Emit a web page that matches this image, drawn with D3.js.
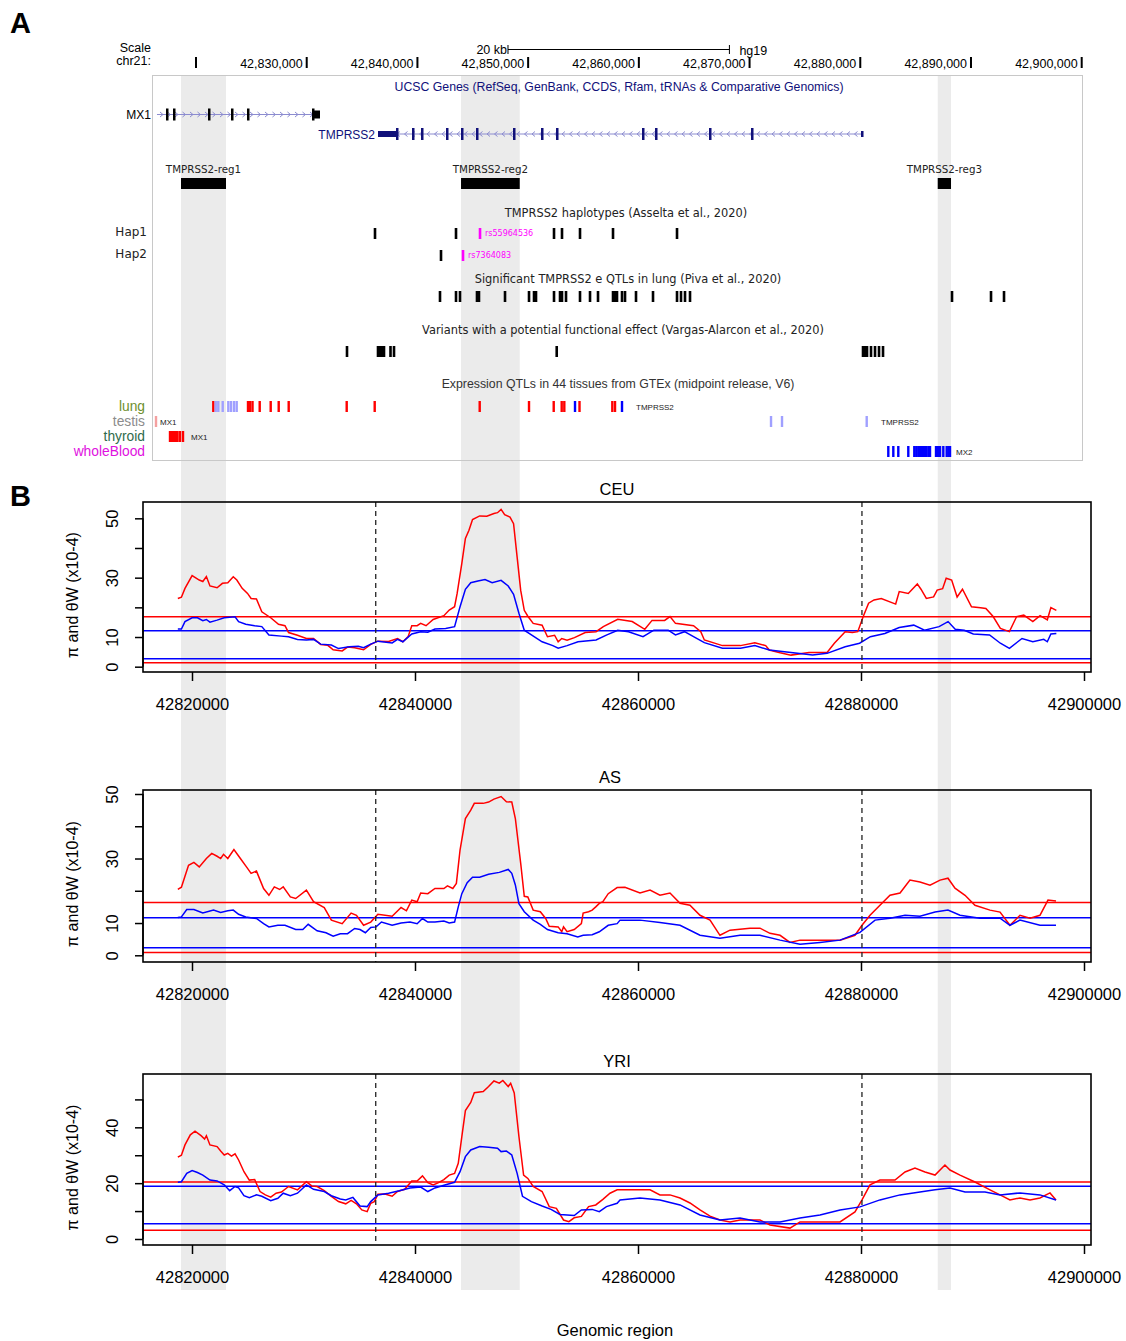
<!DOCTYPE html>
<html>
<head>
<meta charset="utf-8">
<script src="https://cdn.jsdelivr.net/npm/d3@7"></script>
<style>
  body { margin: 0; background: #fff; }
</style>
</head>
<body>
<svg id="fig" width="1126" height="1341"></svg>
<script>
// ---- data (hg19, chr21) ----
const kbBase = 42800000;   // curve positions are kb offsets from here

const scaleTicks = [42820000, 42830000, 42840000, 42850000, 42860000, 42870000, 42880000, 42890000, 42900000];
const scaleBar = [42848180, 42868180];   // 20 kb
const plotTicks = [42820000, 42840000, 42860000, 42880000, 42900000];

// shaded regulatory regions
const regRegions = [
  {name: "TMPRSS2-reg1", start: 42818645, end: 42822710},
  {name: "TMPRSS2-reg2", start: 42843938, end: 42849241},
  {name: "TMPRSS2-reg3", start: 42886995, end: 42888196}
];

// genes: [start, end, kind]
const mx1Span = [42816477, 42831200];
const mx1Exons = [[42817290, 0, "cds"], [42817923, 0, "cds"], [42821084, 0, "cds"], [42823161, 0, "cds"],
                  [42824607, 0, "cds"], [42830478, 0, "cds"], [42830568, 42831200, "utr"]];
const tmprss2Span = [42836439, 42880157];
const tmprss2Exons = [[42836439, 42838065, "utr"], [42838065, 0, "cds"], [42839510, 0, "cds"], [42840323, 0, "cds"],
                      [42842581, 0, "cds"], [42843936, 0, "cds"], [42845291, 0, "cds"], [42848633, 0, "cds"],
                      [42851163, 0, "cds"], [42852518, 0, "cds"], [42860285, 0, "cds"], [42861460, 0, "cds"],
                      [42866337, 0, "cds"], [42870131, 0, "cds"], [42880157, 0, "end"]];

// haplotypes (Asselta et al.)
const hap1Snps = [42836168, 42843485, 42852337, 42853059, 42854685, 42857666, 42863447];
const hap1Tag = {pos: 42845653, id: "rs55964536"};
const hap2Snps = [42842130];
const hap2Tag = {pos: 42844117, id: "rs7364083"};

// lung eQTLs (Piva et al.)
const pivaEqtls = [42842039, 42843485, 42843846, 42845380, 42845560, 42847911, 42850079, 42850531, 42850711,
  42852337, 42852879, 42853059, 42853421, 42854685, 42855589, 42856311, 42857666, 42857846, 42858027,
  42858479, 42858750, 42859743, 42861279, 42863447, 42863808, 42864169, 42864621, 42888286, 42891809, 42892983];

// functional variants (Vargas-Alarcon et al.)
const vargasVariants = [42833639, 42836439, 42836620, 42836800, 42836981, 42837568, 42837885, 42852581,
  42880247, 42880428, 42880609, 42880970, 42881332, 42881693, 42882054];

// GTEx eQTLs per tissue: [pos, colour class]
const gtexRows = ["lung", "testis", "thyroid", "wholeBlood"];
const gtexRowColors = ["#6e8f2e", "#8c8c8c", "#2f6b4c", "#e010e0"];
const lungEqtls = [[42821563, "r"], [42821779, "lb"], [42822014, "lb"], [42822412, "lb"], [42822918, "lb"],
  [42823161, "lb"], [42823432, "lb"], [42823676, "lb"], [42824697, "r"], [42824878, "r"], [42825104, "r"],
  [42825754, "r"], [42826747, "r"], [42827470, "r"], [42828373, "r"], [42833612, "r"], [42836141, "r"],
  [42845625, "r"], [42850079, "r"], [42852310, "r"], [42853032, "r"], [42853267, "r"], [42854234, "b"],
  [42854640, "r"], [42857603, "r"], [42857847, "r"], [42858479, "b"]];
const testisEqtls = [[42816387, "lr"], [42871938, "lb"], [42872931, "lb"], [42880581, "lb"]];
const thyroidEqtls = [[42817652, "r"], [42817832, "r"], [42818013, "r"], [42818193, "r"], [42818330, "r"],
  [42818555, "r"], [42818826, "r"]];
const bloodEqtls = [[42882532, "b"], [42882984, "b"], [42883435, "b"], [42884338, "b"], [42884880, "b"],
  [42885061, "b"], [42885242, "b"], [42885396, "b"], [42885577, "b"], [42885757, "b"], [42885938, "b"],
  [42886145, "b"], [42886299, "b"], [42886841, "b"], [42887022, "b"], [42887202, "b"], [42887500, "b"],
  [42887807, "b"], [42887970, "b"], [42888106, "b"]];
const gtexGeneLabels = [[0, "TMPRSS2", 42859743], [1, "MX1", 42816748], [1, "TMPRSS2", 42881873],
  [2, "MX1", 42819548], [3, "MX2", 42888648]];

// TMPRSS2 gene boundaries (dashed lines)
const geneBounds = [42836478, 42880085];

// pi (red) and theta W (blue), x10-4, [kb offset, value]
const ceuPi = [[18.73,23.0],[19.05,23.4],[19.37,26.4],[20.01,30.7],[20.65,29.2],[20.97,28.7],[21.29,30.4],[21.61,27.2],
  [22.25,26.6],[22.73,28.1],[23.21,28.3],[23.70,30.3],[24.02,29.2],[24.50,26.4],[24.98,24.7],[25.30,23.0],[25.78,22.8],
  [26.26,18.5],[27.06,16.5],[27.76,14.3],[28.34,13.8],[28.66,11.5],[29.46,10.6],[30.26,9.5],[30.90,9.5],[31.54,7.5],
  [32.18,7.2],[32.66,5.7],[33.47,5.3],[33.95,6.6],[34.59,6.4],[35.39,5.7],[36.03,7.5],[36.67,8.6],[37.63,8.5],[38.43,9.5],
  [38.91,8.4],[39.39,10.2],[39.71,13.8],[40.19,13.8],[40.51,14.6],[40.99,13.8],[41.63,15.9],[42.59,17.2],[43.07,19.1],
  [43.55,20.2],[43.78,24.7],[44.20,34.8],[44.52,43.2],[44.84,46.0],[45.16,49.6],[45.80,50.8],[46.44,50.7],[47.08,51.6],
  [47.40,51.9],[47.72,53.0],[48.04,51.2],[48.52,50.4],[48.84,48.2],[49.16,36.9],[49.48,25.7],[49.80,19.0],[50.12,17.0],
  [50.60,14.6],[51.40,14.0],[51.88,10.1],[52.52,10.6],[52.84,8.4],[53.16,9.5],[53.64,8.9],[54.30,9.8],[55.27,11.5],
  [56.24,11.8],[56.89,13.5],[58.18,16.0],[59.48,15.2],[60.61,12.6],[61.26,15.6],[62.39,15.6],[62.87,16.9],[63.36,14.6],
  [64.98,13.8],[65.63,11.8],[65.95,9.0],[67.57,7.1],[69.19,7.1],[70.48,8.1],[71.45,7.1],[71.78,5.6],[72.75,4.7],
  [73.72,3.9],[75.34,4.8],[76.96,4.8],[77.61,7.9],[78.58,11.8],[79.23,11.5],[79.71,11.8],[80.20,16.9],[80.68,21.4],
  [81.17,22.5],[81.82,23.0],[83.11,21.1],[83.43,25.3],[84.24,24.7],[85.05,27.9],[85.38,26.1],[85.86,23.0],[86.51,23.5],
  [86.83,25.8],[87.32,26.3],[87.64,29.8],[88.13,29.2],[88.62,23.5],[89.10,26.1],[89.91,20.2],[90.72,19.9],[91.20,19.6],
  [91.85,16.9],[92.50,12.9],[93.31,11.8],[93.96,16.9],[94.60,17.4],[95.41,15.2],[96.06,17.2],[96.71,15.8],[97.03,19.9],
  [97.52,19.0]];
const ceuTheta = [[18.73,12.7],[19.05,12.7],[19.37,15.2],[20.01,16.5],[20.49,16.5],[20.97,15.5],[21.29,15.9],[21.61,15.0],
  [22.25,15.7],[22.89,16.5],[23.86,16.8],[24.18,15.2],[24.82,14.3],[25.62,13.8],[26.26,13.5],[26.90,10.7],[28.02,10.3],
  [28.66,10.1],[29.46,9.2],[30.26,9.0],[30.90,9.2],[31.54,7.6],[32.50,7.3],[33.14,6.1],[34.11,6.7],[34.91,6.9],[35.39,6.4],
  [36.03,7.6],[36.67,8.6],[37.95,8.0],[38.43,9.2],[38.91,8.4],[39.71,11.0],[40.51,11.8],[41.15,11.6],[41.79,12.7],
  [42.75,12.9],[43.55,13.5],[44.04,20.2],[44.52,26.1],[45.00,28.3],[45.64,28.9],[46.28,29.4],[46.92,28.3],[47.72,29.1],
  [48.36,27.2],[48.84,24.4],[49.32,18.0],[49.80,12.3],[50.44,10.7],[51.40,8.4],[52.36,7.1],[52.84,6.2],[53.64,7.1],
  [54.62,8.4],[56.24,9.0],[57.21,10.7],[58.18,12.3],[59.15,11.8],[60.45,10.1],[61.42,12.3],[62.71,12.3],[63.36,10.7],
  [64.17,11.8],[64.98,10.1],[65.95,8.1],[67.57,6.2],[69.19,6.2],[70.48,7.1],[71.78,5.6],[73.72,4.8],[75.66,3.9],
  [76.96,4.5],[78.58,6.7],[79.87,7.9],[80.84,10.1],[82.14,11.2],[83.43,13.2],[84.73,14.0],[85.70,12.3],[87.00,13.5],
  [87.81,15.2],[88.45,12.6],[89.26,12.3],[90.07,11.0],[91.53,10.7],[92.50,7.9],[93.31,6.2],[94.44,9.5],[95.41,8.4],
  [96.39,9.2],[96.71,8.4],[97.03,11.0],[97.52,11.2]];
const asPi = [[18.73,20.4],[19.05,21.1],[19.37,24.5],[19.69,27.9],[20.17,28.8],[20.65,27.4],[21.29,30.0],[21.77,31.6],
  [22.25,30.7],[22.57,30.0],[22.83,31.3],[23.21,30.0],[23.76,32.8],[24.34,30.0],[24.82,27.7],[25.30,25.4],[25.78,26.1],
  [26.42,20.7],[26.90,18.6],[27.38,21.2],[27.86,20.4],[28.18,21.2],[28.82,18.1],[29.30,17.6],[30.26,20.2],[30.90,16.6],
  [31.86,14.8],[32.50,10.9],[33.47,9.8],[34.27,13.1],[34.75,12.4],[35.39,9.3],[36.03,10.3],[36.67,12.7],[37.95,12.1],
  [38.75,14.8],[39.23,13.8],[39.71,17.1],[40.19,16.6],[40.51,19.3],[41.15,19.1],[41.79,20.7],[42.59,20.7],[42.91,21.5],
  [43.39,20.7],[43.71,22.3],[44.04,32.6],[44.52,42.4],[45.00,45.0],[45.32,47.1],[46.12,47.1],[46.60,47.5],[47.08,48.4],
  [47.72,49.2],[48.20,47.6],[48.68,47.5],[49.00,42.4],[49.48,28.5],[49.80,18.3],[50.12,18.1],[50.60,14.0],[51.24,13.5],
  [51.72,11.4],[52.04,9.0],[52.84,8.8],[53.16,7.3],[53.32,8.8],[53.64,7.3],[54.28,8.0],[54.92,9.8],[55.08,13.1],
  [55.57,13.5],[55.89,14.0],[56.21,15.0],[56.53,16.1],[56.85,16.6],[57.33,19.1],[58.13,21.0],[58.83,21.1],[60.18,19.3],
  [61.08,20.2],[61.97,18.6],[62.87,19.3],[63.77,16.1],[64.66,15.5],[65.56,12.4],[66.46,10.9],[67.35,6.2],[68.25,7.8],
  [70.04,8.4],[70.94,8.4],[71.84,6.8],[72.74,6.2],[73.63,4.0],[74.53,4.7],[76.32,4.7],[78.12,4.7],[79.46,6.2],
  [80.09,9.3],[80.81,12.4],[81.70,15.5],[82.60,18.6],[83.50,19.3],[84.39,23.3],[85.29,22.7],[86.19,21.7],[87.09,23.3],
  [87.80,23.9],[88.43,20.8],[89.33,18.6],[90.22,15.5],[91.57,14.0],[92.47,13.4],[93.36,9.3],[94.26,12.4],[95.16,11.5],
  [96.05,12.4],[96.77,17.1],[97.49,16.8]];
const asTheta = [[18.73,11.7],[19.05,11.9],[19.53,14.2],[20.17,14.2],[20.97,13.1],[21.93,14.0],[22.57,13.3],[23.21,13.8],
  [23.70,14.0],[24.18,12.7],[24.82,11.9],[25.78,11.4],[26.42,9.8],[26.90,8.8],[27.70,9.3],[28.34,9.3],[29.30,8.0],
  [29.94,8.0],[30.42,9.6],[31.22,7.6],[32.02,7.0],[32.66,5.9],[33.30,6.7],[33.95,6.7],[34.59,8.3],[35.07,8.0],[35.55,7.0],
  [36.03,8.6],[36.51,8.8],[36.99,10.3],[37.95,9.3],[38.75,10.0],[39.55,10.3],[40.19,9.8],[40.67,11.4],[41.15,10.3],
  [41.79,10.3],[42.59,10.6],[43.07,10.0],[43.55,10.3],[43.88,15.0],[44.20,19.1],[44.68,22.5],[45.16,24.2],[45.80,24.2],
  [46.60,25.1],[47.56,25.7],[48.36,26.6],[48.68,25.4],[49.00,21.8],[49.32,16.0],[49.80,13.5],[50.60,10.9],[51.24,9.6],
  [51.88,8.0],[52.84,7.0],[53.64,6.7],[54.60,5.7],[55.08,6.2],[55.89,6.4],[56.53,7.3],[57.33,9.3],[58.13,9.8],
  [58.39,10.9],[60.18,10.9],[61.97,10.2],[63.77,9.3],[65.56,6.2],[67.35,5.3],[69.15,6.2],[70.94,6.2],[72.74,4.7],
  [74.53,3.4],[76.32,4.0],[78.12,4.7],[79.91,7.1],[81.26,10.9],[82.60,11.5],[83.95,12.4],[85.29,12.1],[86.64,13.4],
  [87.80,14.0],[88.88,12.4],[90.67,11.5],[92.47,11.5],[93.36,9.3],[94.26,10.9],[96.05,9.3],[97.49,9.3]];
const yriPi = [[18.73,29.3],[19.05,30.0],[19.37,33.7],[19.85,37.3],[20.27,38.6],[20.81,37.0],[21.13,35.8],[21.29,37.0],
  [21.61,33.7],[22.25,33.1],[22.57,31.5],[22.89,30.1],[23.21,30.7],[23.54,29.7],[23.86,30.5],[24.18,28.3],[24.66,24.1],
  [25.14,21.1],[25.62,21.3],[26.10,17.0],[26.58,15.8],[27.06,15.0],[27.54,16.4],[28.02,16.8],[28.66,18.8],[29.46,17.6],
  [30.26,20.5],[30.74,19.0],[31.22,18.8],[31.86,17.3],[32.50,15.3],[33.14,13.4],[33.79,12.6],[34.27,13.8],[34.75,12.6],
  [35.23,10.4],[35.71,9.8],[36.03,12.8],[36.35,13.4],[36.67,16.0],[37.31,16.1],[37.95,15.3],[38.43,17.0],[39.07,17.8],
  [39.71,20.8],[40.19,20.8],[40.67,22.6],[41.15,20.2],[41.63,19.4],[42.11,20.2],[42.59,21.3],[43.07,22.9],[43.55,23.5],
  [43.88,27.1],[44.20,36.7],[44.52,46.0],[45.00,48.9],[45.32,52.4],[46.12,52.8],[46.60,54.6],[47.08,56.6],[47.56,55.8],
  [47.88,56.8],[48.36,54.6],[48.58,55.8],[48.90,52.3],[49.32,36.7],[49.74,22.9],[50.12,21.7],[50.60,18.8],[51.40,17.0],
  [52.04,11.6],[52.68,11.0],[53.32,6.8],[53.80,6.2],[54.28,7.6],[54.92,8.1],[55.57,11.6],[56.21,12.2],[56.85,14.2],
  [57.49,16.4],[58.13,17.6],[60.18,17.6],[61.08,17.6],[61.97,15.8],[62.87,15.8],[63.77,14.7],[64.66,12.9],[65.56,10.4],
  [66.46,8.2],[67.35,6.8],[68.25,6.1],[69.15,6.8],[70.94,6.8],[71.84,5.0],[73.63,3.9],[74.53,6.1],[76.32,6.1],
  [78.12,6.1],[79.46,9.7],[80.09,14.0],[80.81,19.4],[81.70,21.1],[83.05,21.1],[83.95,24.0],[84.84,25.4],[85.74,24.0],
  [86.64,22.9],[87.53,26.5],[87.98,24.7],[88.88,22.9],[90.22,20.4],[91.57,17.6],[92.47,15.8],[93.36,14.0],[94.26,14.7],
  [95.16,14.0],[96.05,14.7],[96.95,16.5],[97.49,14.0]];
const yriTheta = [[18.73,20.3],[19.05,20.5],[19.53,23.5],[20.01,24.5],[20.49,23.8],[20.97,22.9],[21.61,21.1],[22.25,20.8],
  [22.89,19.4],[23.38,17.3],[23.86,18.8],[24.18,18.3],[24.66,15.5],[25.14,14.8],[25.78,15.8],[26.26,15.3],[27.06,13.7],
  [27.70,14.6],[28.18,16.4],[28.82,15.5],[29.46,16.4],[30.26,19.4],[30.90,17.8],[31.86,17.0],[32.50,15.5],[33.30,14.3],
  [33.79,14.0],[34.43,14.9],[35.07,11.8],[35.71,11.6],[36.03,13.4],[36.67,15.8],[37.63,16.4],[38.59,17.3],[39.55,18.3],
  [40.51,18.6],[41.15,17.0],[41.79,18.3],[42.75,19.4],[43.55,20.3],[44.04,24.1],[44.52,29.5],[45.00,31.9],[45.80,33.1],
  [46.60,32.9],[47.40,32.5],[47.72,31.3],[48.20,31.5],[48.68,30.1],[49.16,23.5],[49.64,15.3],[50.44,13.4],[51.40,11.8],
  [52.20,10.6],[53.00,8.8],[53.64,8.6],[54.28,8.4],[54.92,10.4],[55.89,10.6],[56.53,9.8],[57.17,11.6],[58.13,12.8],
  [58.39,14.0],[60.18,14.7],[61.97,14.0],[63.77,12.2],[65.56,8.6],[67.35,6.8],[69.15,7.5],[70.94,6.1],[72.74,6.1],
  [74.53,7.5],[76.32,8.6],[78.12,10.4],[79.91,11.5],[81.70,14.0],[83.50,15.8],[85.29,16.8],[86.64,17.6],[87.98,18.3],
  [89.33,16.8],[91.12,16.8],[92.47,15.8],[94.26,16.5],[96.05,15.8],[97.49,14.0]];

// genome-wide reference levels [upper, lower]
const ceuPiRef = [16.85, 1.35], ceuThetaRef = [12.1, 2.7];
const asPiRef = [16.4, 0.9], asThetaRef = [11.6, 2.3];
const yriPiRef = [20.4, 3.1], yriThetaRef = [18.9, 5.5];

const yTicksA = [0, 10, 20, 30, 40, 50], yLabelsA = [0, 10, 30, 50];
const yLabelsYri = [0, 20, 40];

// ---- drawing ----
const helv = "'Liberation Sans', Arial, Helvetica, sans-serif";
const dejavu = "'DejaVu Sans', sans-serif";
const svg = d3.select("#fig");

const xTop = d3.scaleLinear().domain([42820000, 42900000]).range([196, 1081.7]);
const xBot = d3.scaleLinear().domain([42820000, 42900000]).range([192, 1084]);
const kb = v => kbBase + v * 1000;

function text(x, y, s, size, opts = {}) {
    return svg.append("text")
        .attr("x", x).attr("y", y)
        .attr("font-family", opts.family || helv)
        .attr("font-size", size)
        .attr("font-weight", opts.weight || "normal")
        .attr("fill", opts.fill || "#000")
        .attr("text-anchor", opts.anchor || "start")
        .text(s);
}

// grey regions run through the whole figure
svg.append("g").selectAll("rect").data(regRegions).join("rect")
    .attr("x", d => xTop(d.start)).attr("width", d => xTop(d.end) - xTop(d.start))
    .attr("y", 75).attr("height", 1215)
    .attr("fill", "#ebebeb");

text(10, 33, "A", 29, {weight: "bold"});
text(10, 506, "B", 29, {weight: "bold"});

// ---- browser scale ----
text(151, 52, "Scale", 12.5, {anchor: "end"});
text(151, 65, "chr21:", 12.5, {anchor: "end"});
text(xTop(scaleBar[0]) - 1, 54, "20 kb", 12.5, {anchor: "end"});
svg.append("line").attr("x1", xTop(scaleBar[0])).attr("x2", xTop(scaleBar[1]))
    .attr("y1", 49.5).attr("y2", 49.5).attr("stroke", "#000");
scaleBar.forEach(p => svg.append("line")
    .attr("x1", xTop(p)).attr("x2", xTop(p)).attr("y1", 45).attr("y2", 54).attr("stroke", "#000"));
text(xTop(scaleBar[1]) + 10, 55, "hg19", 12.5);

svg.append("g").selectAll("rect").data(scaleTicks).join("rect")
    .attr("x", d => xTop(d) - 1).attr("width", 2).attr("y", 57).attr("height", 11).attr("fill", "#000");
svg.append("g").selectAll("text").data(scaleTicks.slice(1)).join("text")
    .attr("x", d => xTop(d) - 4).attr("y", 68)
    .attr("text-anchor", "end").attr("font-family", helv).attr("font-size", 12.5)
    .text(d => d3.format(",")(d));

svg.append("rect").attr("x", 152.5).attr("y", 75.5).attr("width", 930).attr("height", 385)
    .attr("fill", "none").attr("stroke", "#c8c8c8");

// ---- genes ----
const navy = "#10107a";
text(619, 91, "UCSC Genes (RefSeq, GenBank, CCDS, Rfam, tRNAs & Comparative Genomics)", 12.3, {fill: navy, anchor: "middle"});

function drawGene(span, exons, cy, strand, color, name) {
    const g = svg.append("g");
    const x0 = xTop(span[0]), x1 = xTop(span[1]);
    g.append("line").attr("x1", x0).attr("x2", x1).attr("y1", cy).attr("y2", cy)
        .attr("stroke", "#8c8cd0").attr("stroke-width", 1);
    // strand chevrons
    d3.range(x0 + 5, x1 - 3, 7.5).forEach(cx => {
        const d = strand > 0 ? `M${cx - 2},${cy - 2.5}L${cx + 1},${cy}L${cx - 2},${cy + 2.5}`
                             : `M${cx + 2},${cy - 2.5}L${cx - 1},${cy}L${cx + 2},${cy + 2.5}`;
        g.append("path").attr("d", d).attr("fill", "none").attr("stroke", "#8c8cd0").attr("stroke-width", 1);
    });
    exons.forEach(([s, e, kind]) => {
        const xs = xTop(s);
        const w = e ? xTop(e) - xs : 2.5;
        const h = kind === "cds" ? 12 : (kind === "utr" ? (strand > 0 ? 8 : 6) : 6);
        g.append("rect").attr("x", kind === "end" ? xs - 1 : xs).attr("y", cy - h / 2)
            .attr("width", Math.max(w, 2)).attr("height", h).attr("fill", color);
    });
    text(x0 - (strand > 0 ? 6 : 3), cy + 4.5, name, 12, {anchor: "end", fill: strand > 0 ? "#000" : color});
}
drawGene(mx1Span, mx1Exons, 114.5, 1, "#000", "MX1");
drawGene(tmprss2Span, tmprss2Exons, 134, -1, navy, "TMPRSS2");

// ---- regulatory regions ----
svg.append("g").selectAll("rect").data(regRegions).join("rect")
    .attr("x", d => xTop(d.start)).attr("width", d => xTop(d.end) - xTop(d.start))
    .attr("y", 178).attr("height", 11).attr("fill", "#000");
svg.append("g").selectAll("text").data(regRegions).join("text")
    .attr("x", d => xTop((d.start + d.end) / 2)).attr("y", 173)
    .attr("text-anchor", "middle").attr("font-family", dejavu).attr("font-size", 10.3).attr("fill", "#222")
    .text(d => d.name);

function ticksRow(positions, y, h, color, w = 2.4) {
    svg.append("g").selectAll("rect").data(positions).join("rect")
        .attr("x", d => xTop(d) - w / 2).attr("width", w)
        .attr("y", y).attr("height", h).attr("fill", color);
}

// ---- haplotypes ----
const magenta = "#ff00ff";
text(626, 217, "TMPRSS2 haplotypes (Asselta et al., 2020)", 11.4, {family: dejavu, anchor: "middle", fill: "#222"});
text(147, 236, "Hap1", 12, {family: dejavu, anchor: "end", fill: "#222"});
text(147, 258, "Hap2", 12, {family: dejavu, anchor: "end", fill: "#222"});
ticksRow(hap1Snps, 228, 11, "#000", 2.6);
ticksRow([hap1Tag.pos], 228, 11, magenta, 2.6);
text(xTop(hap1Tag.pos) + 5, 236, hap1Tag.id, 8, {family: dejavu, fill: magenta});
ticksRow(hap2Snps, 250, 11, "#000", 2.6);
ticksRow([hap2Tag.pos], 250, 11, magenta, 2.6);
text(xTop(hap2Tag.pos) + 5, 258, hap2Tag.id, 8, {family: dejavu, fill: magenta});

// ---- eQTLs / variants ----
text(628, 283, "Significant TMPRSS2 e QTLs in lung (Piva et al., 2020)", 11.4, {family: dejavu, anchor: "middle", fill: "#222"});
ticksRow(pivaEqtls, 291, 11, "#000", 2.6);
text(623, 334, "Variants with a potential functional effect (Vargas-Alarcon et al., 2020)", 11.4, {family: dejavu, anchor: "middle", fill: "#222"});
ticksRow(vargasVariants, 346, 11, "#000", 2.6);

// ---- GTEx ----
text(618, 388, "Expression QTLs in 44 tissues from GTEx (midpoint release, V6)", 12.3, {anchor: "middle", fill: "#333"});
const gtexColor = {r: "#ff0000", b: "#0000ff", lb: "#a0a0ff", lr: "#f4a0a0"};
const gtexTop = [401, 416, 431, 446];
[lungEqtls, testisEqtls, thyroidEqtls, bloodEqtls].forEach((row, i) => {
    svg.append("g").selectAll("rect").data(row).join("rect")
        .attr("x", d => xTop(d[0]) - 1.2).attr("width", 2.4)
        .attr("y", gtexTop[i]).attr("height", 11)
        .attr("fill", d => gtexColor[d[1]]);
    text(145, gtexTop[i] + 10, gtexRows[i], 13.8, {anchor: "end", fill: gtexRowColors[i]});
});
gtexGeneLabels.forEach(([row, name, p]) =>
    text(xTop(p), gtexTop[row] + 9, name, 8, {fill: "#222"}));

// ---- diversity panels ----
const panels = [
    {title: "CEU", titleX: 617, top: 502, bottom: 672, yDomain: [-1.79, 55.5], labels: yLabelsA,
     pi: ceuPi, theta: ceuTheta, piRef: ceuPiRef, thetaRef: ceuThetaRef},
    {title: "AS", titleX: 610, top: 790, bottom: 962, yDomain: [-2.08, 51.24], labels: yLabelsA,
     pi: asPi, theta: asTheta, piRef: asPiRef, thetaRef: asThetaRef},
    {title: "YRI", titleX: 617, top: 1074, bottom: 1245, yDomain: [-2.15, 59.1], labels: yLabelsYri,
     pi: yriPi, theta: yriTheta, piRef: yriPiRef, thetaRef: yriThetaRef}
];
const boxL = 143, boxR = 1091;

panels.forEach(p => {
    const y = d3.scaleLinear().domain(p.yDomain).range([p.bottom, p.top]);
    const g = svg.append("g");

    // reference levels
    [[p.piRef, "#ff0000"], [p.thetaRef, "#0000ff"]].forEach(([vals, col]) => {
        g.selectAll(null).data(vals).join("line")
            .attr("x1", boxL).attr("x2", boxR)
            .attr("y1", d => y(d)).attr("y2", d => y(d))
            .attr("stroke", col).attr("stroke-width", 1.5);
    });

    const line = d3.line().x(d => xBot(kb(d[0]))).y(d => y(d[1]));
    g.append("path").datum(p.pi).attr("d", line)
        .attr("fill", "none").attr("stroke", "#ff0000").attr("stroke-width", 1.5);
    g.append("path").datum(p.theta).attr("d", line)
        .attr("fill", "none").attr("stroke", "#0000ff").attr("stroke-width", 1.5);

    g.selectAll(null).data(geneBounds).join("line")
        .attr("x1", d => xBot(d)).attr("x2", d => xBot(d))
        .attr("y1", p.top).attr("y2", p.bottom)
        .attr("stroke", "#222").attr("stroke-width", 1.3).attr("stroke-dasharray", "5,4");

    g.append("rect").attr("x", boxL).attr("y", p.top)
        .attr("width", boxR - boxL).attr("height", p.bottom - p.top)
        .attr("fill", "none").attr("stroke", "#000").attr("stroke-width", 1.6);

    const ax = g.append("g").attr("transform", `translate(0,${p.bottom})`)
        .call(d3.axisBottom(xBot).tickValues(plotTicks).tickSize(9).tickPadding(17).tickFormat(d3.format("d")));
    ax.select(".domain").remove();
    ax.selectAll("line").attr("stroke-width", 1.5);
    ax.selectAll("text").attr("font-family", helv).attr("font-size", 16.5);

    const ay = g.append("g").attr("transform", `translate(${boxL},0)`)
        .call(d3.axisLeft(y).tickValues(yTicksA.filter(v => v <= p.yDomain[1]))
            .tickSize(8).tickFormat(d => p.labels.includes(d) ? d : ""));
    ay.select(".domain").attr("d", `M0,${y(0)}V${y(50)}`).attr("stroke-width", 1.5);
    ay.selectAll("line").attr("stroke-width", 1.5);
    ay.selectAll("text").attr("font-family", helv).attr("font-size", 16.5)
        .attr("x", 0).attr("y", -25).attr("dy", null)
        .attr("text-anchor", "middle").attr("transform", "rotate(-90)");

    text(p.titleX, p.top - 7, p.title, 16.5, {anchor: "middle"});
    const ym = (p.top + p.bottom) / 2 + 8;
    svg.append("text").attr("transform", `translate(78,${ym}) rotate(-90)`)
        .attr("text-anchor", "middle").attr("font-family", helv).attr("font-size", 16)
        .text("π and θW (x10-4)");
});

text(615, 1336, "Genomic region", 16.5, {anchor: "middle"});
</script>
</body>
</html>
